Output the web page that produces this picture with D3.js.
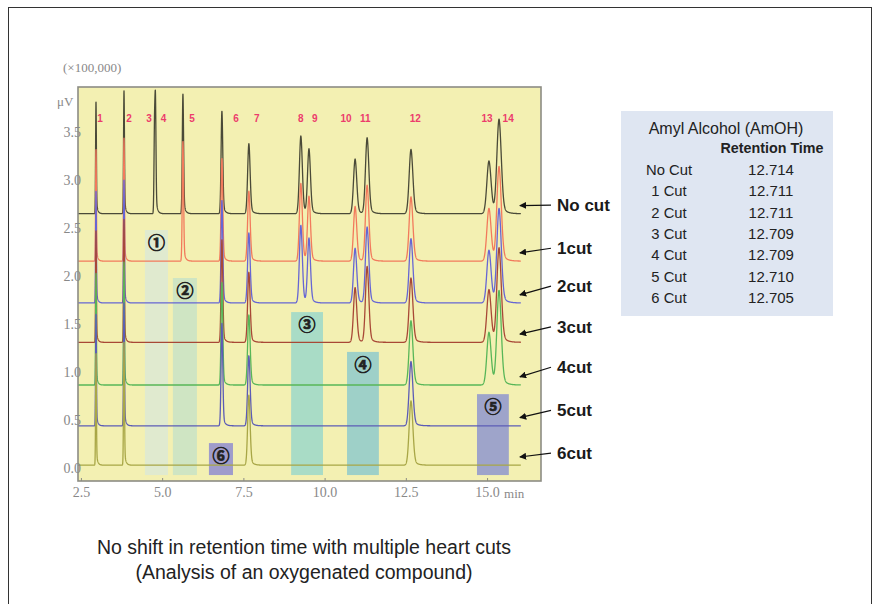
<!DOCTYPE html>
<html><head><meta charset="utf-8">
<script src="https://cdn.jsdelivr.net/npm/d3@7"></script>
<style>
html,body{margin:0;padding:0;background:#fff;}
svg{display:block;}
</style></head>
<body>
<svg id="chart" width="874" height="604"></svg>
<script>
// ---------------- data ----------------
const peakIds      = ["1","2","3","4","5","6","7","8","9","10","11","12","13","14"];
const peakTimes    = [2.964, 3.826, 4.765, 4.795, 5.64, 6.84, 7.67, 9.27, 9.52, 10.94, 11.31, 12.66, 15.06, 15.37];
const peakHeights  = [1.17, 1.28, 0.85, 1.05, 1.25, 1.07, 0.73, 0.81, 0.67, 0.57, 0.79, 0.67, 0.55, 0.98];
const peakSigmas   = [0.012, 0.014, 0.016, 0.016, 0.02, 0.026, 0.038, 0.045, 0.045, 0.05, 0.052, 0.057, 0.065, 0.068];
const peakLabelTimes = [3.09, 3.98, 4.60, 5.04, 5.92, 7.27, 7.91, 9.27, 9.70, 10.66, 11.25, 12.79, 15.0, 15.65];
const peakLabelValue = 3.645;

const traceNames     = ["No cut", "1cut", "2cut", "3cut", "4cut", "5cut", "6cut"];
const traceBaselines = [2.65, 2.156, 1.72, 1.31, 0.865, 0.44, 0.03];
const traceColors    = ["#4a4a38", "#f27a5c", "#6666d4", "#a84836", "#58b658", "#5c5cb6", "#a8a646"];
const traceRemoved   = [
  [],
  ["3","4"],
  ["3","4","5"],
  ["3","4","5","8","9"],
  ["3","4","5","8","9","10","11"],
  ["3","4","5","8","9","10","11","13","14"],
  ["3","4","5","6","8","9","10","11","13","14"]
];
const traceLabelValues = [2.74, 2.29, 1.896, 1.47, 1.05, 0.60, 0.156];

const cutLabels  = ["①","②","③","④","⑤","⑥"];
const cutStart   = [4.47, 5.33, 8.97, 10.69, 14.69, 6.44];
const cutEnd     = [5.18, 6.07, 9.95, 11.67, 15.67, 7.18];
const cutTop     = [2.48, 1.98, 1.625, 1.21, 0.77, 0.26];
const cutBottom  = -0.073;
const cutColors  = ["#e0eacf", "#cfe5c3", "#a9dcc6", "#9ed0c8", "#9ea4ca", "#9f9ccb"];

const xTicks = [2.5, 5.0, 7.5, 10.0, 12.5, 15.0];
const yTicks = [0.0, 0.5, 1.0, 1.5, 2.0, 2.5, 3.0, 3.5];

const tableTitle = "Amyl Alcohol (AmOH)";
const tableHeader = "Retention Time";
const tableCuts = ["No Cut", "1 Cut", "2 Cut", "3 Cut", "4 Cut", "5 Cut", "6 Cut"];
const tableRT   = ["12.714", "12.711", "12.711", "12.709", "12.709", "12.710", "12.705"];

const captionLines = ["No shift in retention time with multiple heart cuts", "(Analysis of an oxygenated compound)"];

// ---------------- layout ----------------
const svg = d3.select("#chart");
const plot = {left: 78, right: 541, top: 87, bottom: 481};
const x = d3.scaleLinear().domain([2.41, 16.66]).range([plot.left, plot.right]);
const y = d3.scaleLinear().domain([-0.135, 3.97]).range([plot.bottom, plot.top]);
const traceEnd = 16.04;
const axisFont = "'Liberation Serif', 'Times New Roman', serif";
const sans = "Arial, 'Liberation Sans', sans-serif";

// outer frame
svg.append("rect").attr("x", 8.5).attr("y", 7.5).attr("width", 863).attr("height", 610)
  .attr("fill", "none").attr("stroke", "#333").attr("stroke-width", 1);

// plot background
svg.append("rect").attr("x", plot.left).attr("y", plot.top)
  .attr("width", plot.right - plot.left).attr("height", plot.bottom - plot.top)
  .attr("fill", "#f3f0b2");

// heart cut boxes
const cuts = cutLabels.map((l, i) => ({l, s: cutStart[i], e: cutEnd[i], t: cutTop[i], c: cutColors[i]}));
svg.append("g").selectAll("rect").data(cuts).join("rect")
  .attr("x", d => x(d.s)).attr("y", d => y(d.t))
  .attr("width", d => x(d.e) - x(d.s)).attr("height", d => y(cutBottom) - y(d.t))
  .attr("fill", d => d.c);

// peak shape
function shape(t, t0, h, s) {
  const dt = t - t0;
  const g = Math.exp(-dt * dt / (2 * s * s));
  if (dt < 0) return h * g;
  const tau = 1.5 * s + 0.02;
  const a = 0.15;
  return h * ((1 - a) * g + a * Math.exp(-dt / tau));
}
const grid = d3.range(2.41, traceEnd + 1e-9, 0.003);
const line = d3.line().x(d => x(d[0])).y(d => y(d[1]));

const gTraces = svg.append("g");
traceNames.forEach((name, i) => {
  const active = peakIds.map((id, k) => k).filter(k => !traceRemoved[i].includes(peakIds[k]));
  const pts = grid.map(t => {
    let v = traceBaselines[i];
    active.forEach(k => { v += shape(t, peakTimes[k], peakHeights[k], peakSigmas[k]); });
    return [t, Math.min(v, 3.97)];
  });
  gTraces.append("path").attr("d", line(pts)).attr("fill", "none")
    .attr("stroke", traceColors[i]).attr("stroke-width", 1.3).attr("stroke-linejoin", "round");
});

// circled numbers
svg.append("g").selectAll("text").data(cuts).join("text")
  .attr("x", d => (x(d.s) + x(d.e)) / 2).attr("y", d => y(d.t) + 19)
  .attr("text-anchor", "middle")
  .attr("font-family", "'Noto Sans CJK JP', 'DejaVu Sans', sans-serif")
  .attr("font-size", 17).attr("font-weight", "bold").attr("fill", "#222")
  .attr("stroke", "#222").attr("stroke-width", 0.7)
  .text(d => d.l);

// peak labels
svg.append("g").selectAll("text").data(peakIds).join("text")
  .attr("x", (d, i) => x(peakLabelTimes[i])).attr("y", y(peakLabelValue) + 4)
  .attr("text-anchor", "middle")
  .attr("font-family", sans)
  .attr("font-size", 10).attr("font-weight", "bold").attr("fill", "#ec3c6c")
  .text(d => d);

// plot border
svg.append("rect").attr("x", plot.left).attr("y", plot.top)
  .attr("width", plot.right - plot.left).attr("height", plot.bottom - plot.top)
  .attr("fill", "none").attr("stroke", "#8c8c84").attr("stroke-width", 1.6);

// axes
const xAxis = d3.axisBottom(x).tickValues(xTicks).tickFormat(d3.format(".1f")).tickSize(-3).tickPadding(6);
const gx = svg.append("g").attr("transform", `translate(0,${plot.bottom})`).call(xAxis);
gx.select(".domain").remove();
gx.selectAll(".tick line").attr("stroke", "#8c8c84");
gx.selectAll("text").attr("font-family", axisFont).attr("font-size", 14).attr("fill", "#888");
svg.append("text").attr("x", x(15.0) + 17).attr("y", plot.bottom + 17)
  .attr("font-family", axisFont).attr("font-size", 13).attr("fill", "#888").text("min");

const gy = svg.append("g");
gy.selectAll("text").data(yTicks).join("text")
  .attr("x", plot.left + 3).attr("y", d => y(d) + 5)
  .attr("text-anchor", "end")
  .attr("font-family", axisFont).attr("font-size", 14).attr("fill", "#888")
  .text(d => d.toFixed(1));
svg.append("text").attr("x", 57).attr("y", 106)
  .attr("font-family", axisFont).attr("font-size", 13).attr("fill", "#888").text("μV");
svg.append("text").attr("x", 63).attr("y", 72)
  .attr("font-family", axisFont).attr("font-size", 13).attr("fill", "#888").text("(×100,000)");

// trace labels + arrows
svg.append("defs").append("marker").attr("id", "arr").attr("viewBox", "0 0 10 10")
  .attr("refX", 9).attr("refY", 5).attr("markerWidth", 7).attr("markerHeight", 7)
  .attr("markerUnits", "userSpaceOnUse").attr("orient", "auto")
  .append("path").attr("d", "M0,0 L10,5 L0,10 Z").attr("fill", "#111");
const gLab = svg.append("g");
traceNames.forEach((name, i) => {
  gLab.append("line")
    .attr("x1", 551).attr("y1", y(traceLabelValues[i]))
    .attr("x2", x(traceEnd) - 1).attr("y2", y(traceBaselines[i] + 0.085))
    .attr("stroke", "#111").attr("stroke-width", 1.2).attr("marker-end", "url(#arr)");
  gLab.append("text").attr("x", 557).attr("y", y(traceLabelValues[i]) + 6)
    .attr("font-family", sans)
    .attr("font-size", 17).attr("font-weight", "bold").attr("fill", "#1a1a1a")
    .text(name);
});

// table
const tb = {x: 621, y: 111, w: 212, h: 205};
svg.append("rect").attr("x", tb.x).attr("y", tb.y).attr("width", tb.w).attr("height", tb.h).attr("fill", "#dfe6f2");
svg.append("text").attr("x", 726).attr("y", 134).attr("text-anchor", "middle")
  .attr("font-family", sans).attr("font-size", 16).attr("fill", "#222").text(tableTitle);
svg.append("text").attr("x", 772).attr("y", 153).attr("text-anchor", "middle")
  .attr("font-family", sans).attr("font-size", 14.3).attr("font-weight", "bold")
  .attr("fill", "#222").text(tableHeader);
const rowY = d3.scaleLinear().domain([0, 6]).range([170, 298]);
svg.append("g").selectAll("text").data(tableCuts).join("text")
  .attr("x", 669).attr("y", (d, i) => rowY(i) + 5).attr("text-anchor", "middle")
  .attr("font-family", sans).attr("font-size", 14.8).attr("fill", "#222").text(d => d);
svg.append("g").selectAll("text").data(tableRT).join("text")
  .attr("x", 771).attr("y", (d, i) => rowY(i) + 5).attr("text-anchor", "middle")
  .attr("font-family", sans).attr("font-size", 15).attr("fill", "#222").text(d => d);

// caption
svg.append("g").selectAll("text").data(captionLines).join("text")
  .attr("x", 304).attr("y", (d, i) => 554 + i * 25).attr("text-anchor", "middle")
  .attr("font-family", sans).attr("font-size", 19.5).attr("fill", "#222").text(d => d);
</script>
</body></html>
